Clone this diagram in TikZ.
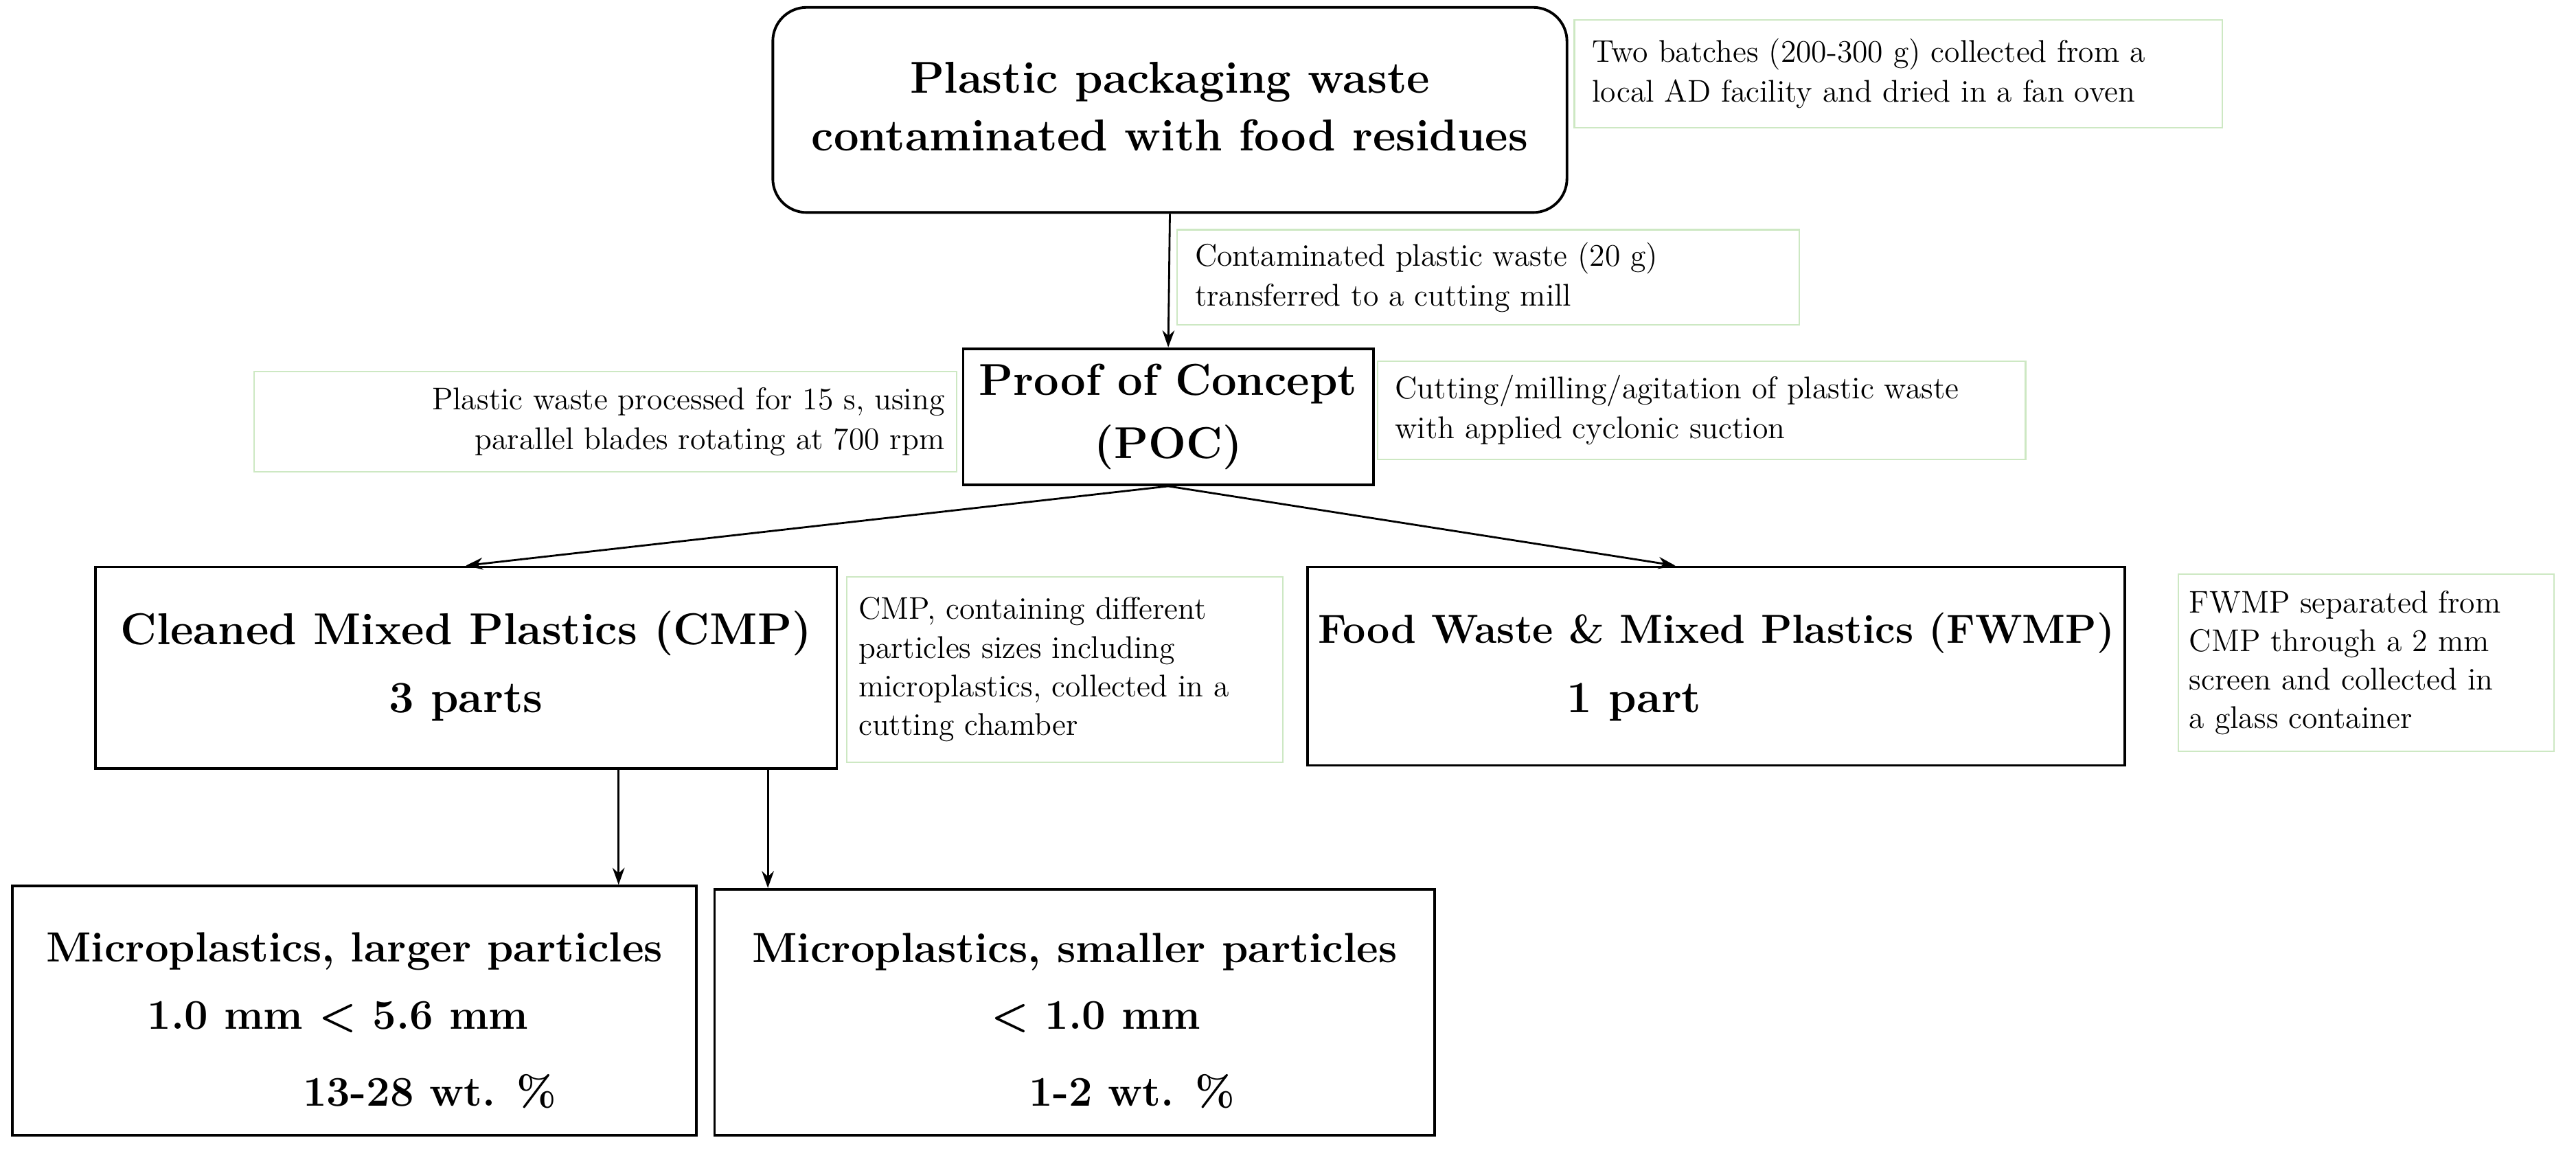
\documentclass[tikz,border=0pt]{standalone}
\usetikzlibrary{arrows.meta}
\begin{document}
\begin{tikzpicture}[x=0.0239cm,y=-0.0239cm,
  box/.style={draw=black,line width=1.1pt,inner sep=0pt},
  note/.style={draw={rgb,255:red,205;green,232;blue,195},line width=0.6pt,inner sep=0pt},
  big/.style={font=\fontsize{18.5}{22}\selectfont\bfseries,inner sep=0pt},
  mid/.style={font=\fontsize{17.5}{22}\selectfont\bfseries,inner sep=0pt},
  small/.style={font=\fontsize{13}{16.5}\selectfont,inner sep=0pt,align=left},
  arr/.style={-{Stealth[length=7pt,width=5pt]},line width=0.8pt}]
\useasboundingbox (0,0) rectangle (1570,708);
% top box
\node[box,rounded corners=14pt,minimum width=484*0.0239cm,minimum height=125*0.0239cm] (top) at (713,67) {};
\node[big,align=center,font=\fontsize{18.5}{24}\selectfont\bfseries] (toptxt) at (713,65) {Plastic packaging waste\\contaminated with food residues};
\node[note,minimum width=395*0.0239cm,minimum height=66*0.0239cm] (n1) at (1157,45) {};
\node[small,anchor=west] (n1t) at (970,45) {Two batches (200-300 g) collected from a\\local AD facility and dried in a fan oven};
% POC
\node[box,minimum width=250*0.0239cm,minimum height=83*0.0239cm] (poc) at (712,254) {};
\node[big,align=center,font=\fontsize{18.5}{26}\selectfont\bfseries] (poct) at (712,254) {Proof of Concept\\(POC)};
\node[note,minimum width=379*0.0239cm,minimum height=58*0.0239cm] (n2) at (907,169) {};
\node[small,anchor=west] (n2t) at (728,169) {Contaminated plastic waste (20 g)\\transferred to a cutting mill};
\node[note,minimum width=428*0.0239cm,minimum height=61*0.0239cm] (n3) at (369,257) {};
\node[small,anchor=east,align=right] (n3t) at (576,257) {Plastic waste processed for 15 s, using\\parallel blades rotating at 700 rpm};
\node[note,minimum width=395*0.0239cm,minimum height=60*0.0239cm] (n4) at (1037,250) {};
\node[small,anchor=west] (n4t) at (850,250) {Cutting/milling/agitation of plastic waste\\with applied cyclonic suction};
% CMP
\node[box,minimum width=452*0.0239cm,minimum height=123*0.0239cm] (cmp) at (284,407) {};
\node[big] (cmp1) at (284,386) {Cleaned Mixed Plastics (CMP)};
\node[big] (cmp2) at (284,428) {3 parts};
\node[note,minimum width=266*0.0239cm,minimum height=113*0.0239cm] (n5) at (649,408) {};
\node[small,anchor=west,font=\fontsize{13}{16}\selectfont] (n5t) at (523,408) {CMP, containing different\\particles sizes including\\microplastics, collected in a\\cutting chamber};
% FWMP
\node[box,minimum width=498*0.0239cm,minimum height=121*0.0239cm] (fw) at (1046,406) {};
\node[mid,font=\fontsize{16.8}{22}\selectfont\bfseries] (fw1) at (1046,386) {Food Waste \& Mixed Plastics (FWMP)};
\node[big] (fw2) at (996,428) {1 part};
\node[note,minimum width=229*0.0239cm,minimum height=108*0.0239cm] (n6) at (1442,404) {};
\node[small,anchor=west,font=\fontsize{13}{16}\selectfont] (n6t) at (1334,404) {FWMP separated from\\CMP through a 2 mm\\screen and collected in\\a glass container};
% bottom boxes
\node[box,minimum width=417*0.0239cm,minimum height=152*0.0239cm] (ba) at (216,616) {};
\node[mid] (ba1) at (216,580) {Microplastics, larger particles};
\node[mid] (ba2) at (206,620) {1.0 mm < 5.6 mm};
\node[mid] (ba3) at (262,665) {13-28 wt. \%};
\node[box,minimum width=439*0.0239cm,minimum height=150*0.0239cm] (bb) at (655,617) {};
\node[mid] (bb1) at (655,580) {Microplastics, smaller particles};
\node[mid] (bb2) at (668,620) {< 1.0 mm};
\node[mid] (bb3) at (690,665) {1-2 wt. \%};
% arrows
\draw[arr] (top.south) -- (poc.north);
\draw[arr] (poc.south) -- (cmp.north);
\draw[arr] (poc.south) -- (fw.north -| 1021,0);
\draw[arr] (cmp.south -| 377,0) -- (ba.north -| 377,0);
\draw[arr] (cmp.south -| 468,0) -- (bb.north -| 468,0);
\end{tikzpicture}
\end{document}
